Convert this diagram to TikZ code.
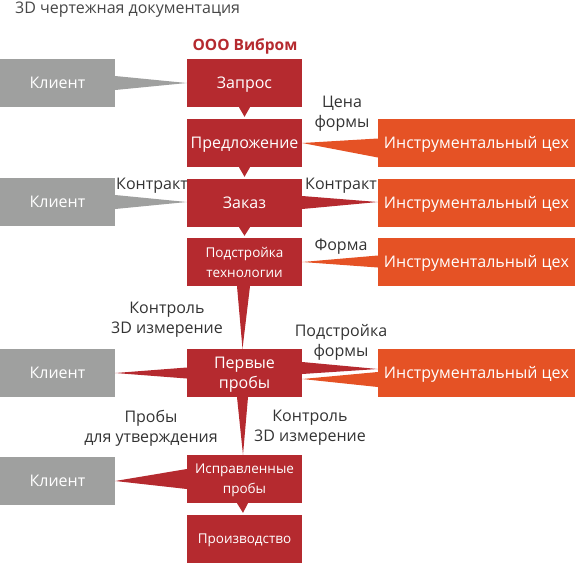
\documentclass[tikz,border=0pt]{standalone}
\usepackage{fontspec}
\setmainfont{Open Sans}
\definecolor{vibred}{HTML}{B52A2F}
\definecolor{klgray}{HTML}{9FA09F}
\definecolor{cexor}{HTML}{E55225}
\definecolor{tekst}{HTML}{333333}

\begin{document}
\begin{tikzpicture}[x=1pt, y=-1pt,
    every node/.style={inner sep=0pt, align=center, text depth=0pt},
    blok/.style={minimum height=48pt, text=white, font=\fontsize{16}{20}\selectfont},
    klient/.style={blok, fill=klgray, minimum width=115pt},
    etap/.style={blok, fill=vibred, minimum width=115pt},
    melkij/.style={font=\fontsize{13.5}{20}\selectfont},
    cex/.style={blok, fill=cexor, minimum width=197pt},
    metka/.style={text=tekst, font=\fontsize{16}{20}\selectfont}]
	\useasboundingbox (0,0) rectangle (575,563);
	
	% === заголовок ===
	\node[anchor=west, text=tekst!90, font=\fontsize{16}{20}\selectfont] (titul) at (15,8) {3D чертежная документация};
	\node[text=vibred, font=\fontsize{15.5}{20}\selectfont\bfseries] (vibrom) at (245,45) {ООО Вибром};
	
	% === этапы (красные) ===
	\node[etap] (zapros) at (244.5,83) {Запрос};
	\node[etap] (predl) at (244.5,143) {Предложение};
	\node[etap] (zakaz) at (244.5,203) {Заказ};
	\node[etap, melkij] (podstr) at (244.5,262) {Подстройка\\технологии};
	\node[etap] (pervye) at (244.5,373) {Первые\\пробы};
	\node[etap, melkij] (ispr) at (244.5,479) {Исправленные\\пробы};
	\node[etap, melkij] (proizv) at (244.5,539) {Производство};
	
	% === клиент (серые) ===
	\node[klient] (kl1) at (57.5,83) {Клиент};
	\node[klient] (kl2) at (57.5,202) {Клиент};
	\node[klient] (kl3) at (57.5,373) {Клиент};
	\node[klient] (kl4) at (57.5,481) {Клиент};
	
	% === инструментальный цех (оранжевые) ===
	\node[cex] (cex1) at (476.5,142.5) {Инструментальный цех};
	\node[cex] (cex2) at (476.5,202.5) {Инструментальный цех};
	\node[cex] (cex3) at (476.5,261.5) {Инструментальный цех};
	\node[cex] (cex4) at (476.5,372.5) {Инструментальный цех};
	
	% === стрелки между этапами ===
	\fill[vibred] ([xshift=-5.5pt]zapros.south) -- ([xshift=5.5pt]zapros.south) -- ([yshift=2pt]predl.north) -- cycle;
	\fill[vibred] ([xshift=-5.5pt]predl.south) -- ([xshift=5.5pt]predl.south) -- ([yshift=2pt]zakaz.north) -- cycle;
	\fill[vibred] ([xshift=-5.5pt]zakaz.south) -- ([xshift=5.5pt]zakaz.south) -- ([yshift=2pt]podstr.north) -- cycle;
	\fill[vibred] ([xshift=-7.5pt]podstr.south) -- ([xshift=5.5pt]podstr.south) -- ([xshift=-2pt]pervye.north) -- cycle;
	\fill[vibred] ([xshift=-7.5pt]pervye.south) -- ([xshift=3.5pt]pervye.south) -- ([xshift=-1.5pt]ispr.north) -- cycle;
	\fill[vibred] ([xshift=-7.5pt]ispr.south) -- ([xshift=3.5pt]ispr.south) -- ([xshift=-1.5pt,yshift=2pt]proizv.north) -- cycle;
	
	% === клиент <-> Вибром ===
	\fill[klgray] ([yshift=7pt]kl1.east) -- ([yshift=-7pt]kl1.east) -- (zapros.west) -- cycle;
	\fill[klgray] ([yshift=7pt]kl2.east) -- ([yshift=-7pt]kl2.east) -- ([yshift=1pt]zakaz.west) -- cycle;
	\fill[vibred] ([yshift=5.5pt]pervye.west) -- ([yshift=-5.5pt]pervye.west) -- (kl3.east) -- cycle;
	\fill[vibred] ([yshift=10pt]ispr.west) -- ([yshift=-10pt]ispr.west) -- (kl4.east) -- cycle;
	
	% === цех <-> Вибром ===
	\fill[cexor] ([yshift=4pt]cex1.west) -- ([yshift=-15pt]cex1.west) -- (predl.east) -- cycle;
	\fill[vibred] ([yshift=7pt]zakaz.east) -- ([yshift=-6pt]zakaz.east) -- ([yshift=0.5pt]cex2.west) -- cycle;
	\fill[cexor] ([yshift=6pt]cex3.west) -- ([yshift=-6pt]cex3.west) -- (podstr.east) -- cycle;
	\fill[vibred] ([yshift=11pt]pervye.east) -- ([yshift=-1pt]pervye.east) -- ([yshift=3.5pt]cex4.west) -- cycle;
	\fill[cexor] ([yshift=0.5pt]cex4.west) -- ([yshift=-14.5pt]cex4.west) -- ([yshift=-6pt]pervye.east) -- cycle;
	
	% === подписи ===
	\node[metka] (cena) at (342,112) {Цена\\формы};
	\node[metka] (kontrakt1) at (152,184) {Контракт};
	\node[metka] (kontrakt2) at (341,184) {Контракт};
	\node[metka] (forma) at (341,245) {Форма};
	\node[metka] (kontrol1) at (167,318) {Контроль\\3D измерение};
	\node[metka] (podforma) at (341,340) {Подстройка\\формы};
	\node[metka] (proby) at (151,426) {Пробы\\для утверждения};
	\node[metka] (kontrol2) at (310,426) {Контроль\\3D измерение};
\end{tikzpicture}
\end{document}
